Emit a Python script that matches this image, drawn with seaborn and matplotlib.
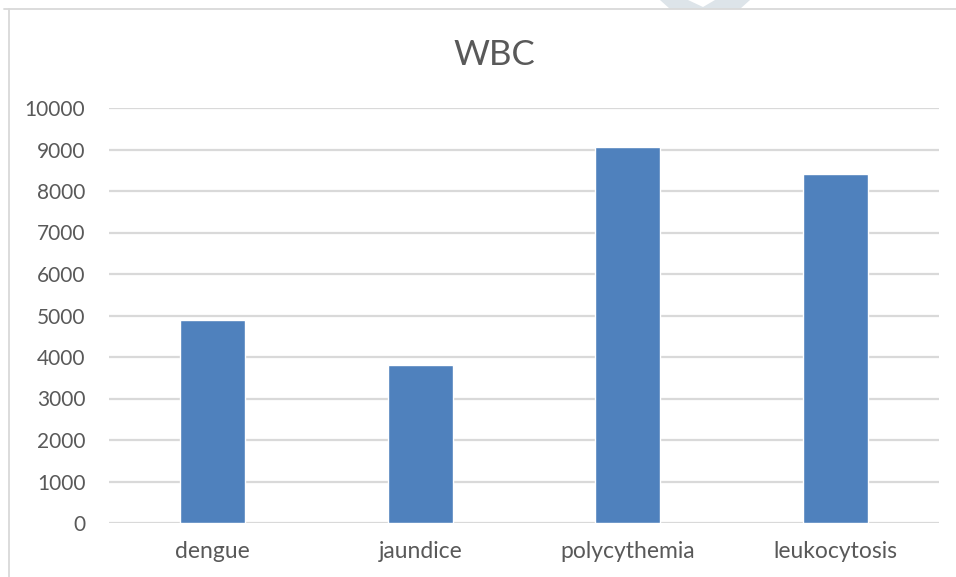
import matplotlib
matplotlib.use("Agg")
import matplotlib.pyplot as plt
from matplotlib.patches import Polygon
from matplotlib.lines import Line2D
import seaborn as sns
import pandas as pd

# WBC counts per condition
categories = ["dengue", "jaundice", "polycythemia", "leukocytosis"]
wbc_values = [4900, 3800, 9050, 8400]
y_ticks = [0, 1000, 2000, 3000, 4000, 5000, 6000, 7000, 8000, 9000, 10000]
title_text = "WBC"

df = pd.DataFrame({"condition": categories, "wbc": wbc_values})

sns.set_theme(style="white")
plt.rcParams["font.family"] = ["Lato", "DejaVu Sans"]

W, H = 956, 577
fig = plt.figure(figsize=(W / 100, H / 100), dpi=100)
fig.patch.set_facecolor("white")

# plot area in pixel terms
left, right, top, bottom = 109, 939, 108, 523
ax = fig.add_axes([left / W, 1 - bottom / H, (right - left) / W, (bottom - top) / H])

sns.barplot(data=df, x="condition", y="wbc", color="#4f81bd", saturation=1,
            width=0.313, ax=ax, zorder=3)

ax.set_ylim(0, 10000)
ax.set_xlim(-0.5, 3.5)
ax.set_yticks(y_ticks)
ax.set_yticklabels([str(v) for v in y_ticks])
ax.yaxis.grid(True, color="#d9d9d9", linewidth=1.6, zorder=0)
ax.set_axisbelow(True)
for s in ax.spines.values():
    s.set_visible(False)
ax.tick_params(axis="y", length=0, pad=17, labelsize=15, labelcolor="#595959")
ax.tick_params(axis="x", length=0, pad=13, labelsize=16.5, labelcolor="#595959")
ax.set_xlabel("")
ax.set_ylabel("")

fig.text(494 / W, 1 - 55 / H, title_text, ha="center", va="center",
         fontsize=25, color="#595959")

# chart frame (top and left edges)
fig.add_artist(Line2D([4 / W, 1], [1 - 9 / H, 1 - 9 / H], color="#d9d9d9",
                      linewidth=1.3, transform=fig.transFigure))
fig.add_artist(Line2D([9 / W, 9 / W], [0, 1 - 9 / H], color="#d9d9d9",
                      linewidth=1.3, transform=fig.transFigure))

# faint page mark at top edge
pts = [(660, 0), (688, 0), (703, 7), (715, 0), (750, 0), (740, 9), (670, 9)]
fig.add_artist(Polygon([(x / W, 1 - y / H) for x, y in pts], closed=True,
                       facecolor="#dde4e9", edgecolor="none",
                       transform=fig.transFigure, zorder=0))

fig.savefig("out.png", dpi=100, facecolor="white")
